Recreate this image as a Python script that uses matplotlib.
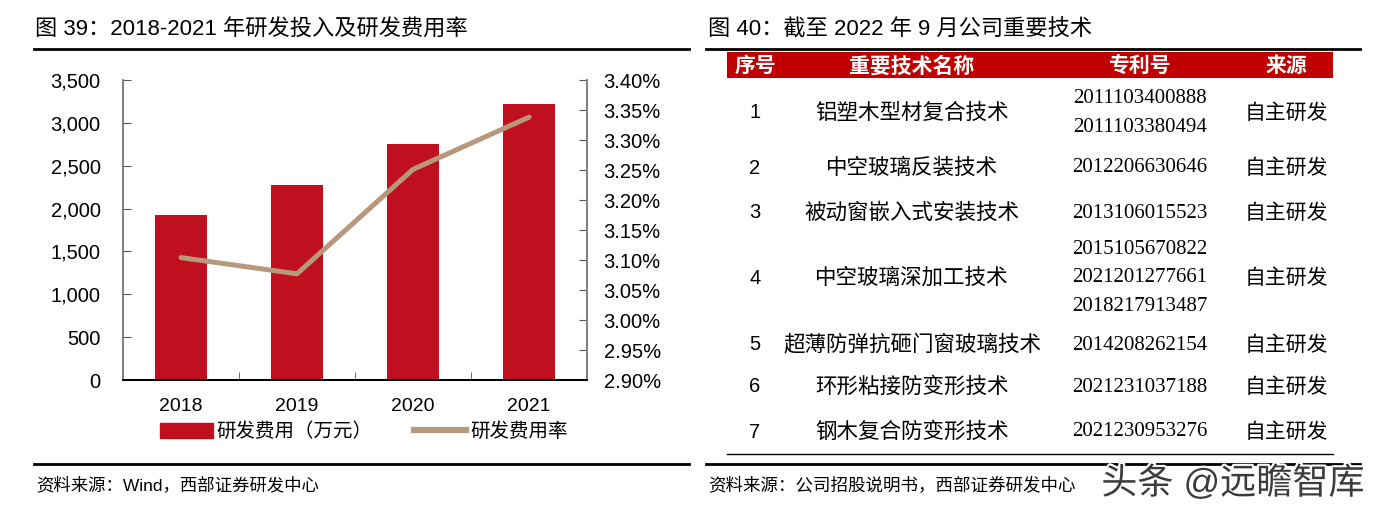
import matplotlib.pyplot as plt
import numpy as np
from matplotlib.lines import Line2D
from matplotlib.patches import Patch, Rectangle
from matplotlib.ticker import FuncFormatter
import matplotlib.patheffects as pe

CJK = ['Liberation Sans', 'Noto Sans CJK SC']
plt.rcParams['font.family'] = CJK

# data
years = ['2018', '2019', '2020', '2021']
rd_cost = [1925, 2270, 2751, 3224]          # 研发费用（万元）
rd_rate = [3.104, 3.077, 3.251, 3.338]      # 研发费用率 %

tbl_header = ['序号', '重要技术名称', '专利号', '来源']
tbl_no = ['1', '2', '3', '4', '5', '6', '7']
tbl_tech = ['铝塑木型材复合技术', '中空玻璃反装技术', '被动窗嵌入式安装技术',
            '中空玻璃深加工技术', '超薄防弹抗砸门窗玻璃技术', '环形粘接防变形技术',
            '钢木复合防变形技术']
tbl_patent = [['2011103400888', '2011103380494'],
              ['2012206630646'],
              ['2013106015523'],
              ['2015105670822', '2021201277661', '2018217913487'],
              ['2014208262154'],
              ['2021231037188'],
              ['2021230953276']]
tbl_src = ['自主研发'] * 7

W, H = 1380, 514
fig = plt.figure(figsize=(W / 100, H / 100), dpi=100)

bar_c = '#C00F1E'
line_c = '#B8987A'

# ---- left chart
ax = fig.add_axes([123 / W, (H - 380) / H, 464 / W, 300 / H])
x = np.arange(len(years))
ax.bar(x, rd_cost, width=0.44, color=bar_c, zorder=2)
ax.set_xlim(-0.5, 3.5)
ax.set_ylim(0, 3500)
ax.set_yticks(np.arange(0, 3501, 500))
ax.yaxis.set_major_formatter(FuncFormatter(lambda v, p: f'{int(v):,}'))
ax.set_xticks(x)
ax.set_xticklabels(years)
ax.set_xticks([0.5, 1.5, 2.5], minor=True)
ax.tick_params(axis='x', which='major', length=0, labelsize=14, pad=13)
ax.tick_params(axis='x', which='minor', direction='in', length=6, color='#555555')
ax.tick_params(axis='y', direction='in', length=6, color='#555555', labelsize=14.5, pad=16)

ax2 = ax.twinx()
ax2.plot(x, rd_rate, color=line_c, lw=3.6, solid_capstyle='round', zorder=3)
ax2.set_ylim(2.90, 3.40)
ax2.set_yticks(np.arange(2.90, 3.401, 0.05))
ax2.yaxis.set_major_formatter(FuncFormatter(lambda v, p: f'{v:.2f}%'))
ax2.tick_params(axis='y', direction='in', length=6, color='#555555', labelsize=14.5, pad=12)

for a in (ax, ax2):
    a.spines['top'].set_visible(False)
    a.spines['left'].set_color('#808080')
    a.spines['right'].set_color('#808080')
    a.spines['bottom'].set_color('black')
    for s in a.spines.values():
        s.set_linewidth(1.3)

handles = [Patch(color=bar_c), Line2D([0], [0], color=line_c, lw=4.5)]
fig.legend(handles, ['研发费用（万元）', '研发费用率'], loc='center',
           bbox_to_anchor=(364 / W, 1 - 432 / H), ncol=2, frameon=False,
           prop={'family': CJK, 'size': 14}, handlelength=2.7, handleheight=0.75,
           handletextpad=0.2, columnspacing=2.1)

# ---- overlay in pixel units for titles, rules and table
ov = fig.add_axes([0, 0, 1, 1], zorder=5)
ov.set_xlim(0, W)
ov.set_ylim(H, 0)
ov.axis('off')
ov.patch.set_visible(False)

ov.text(35, 30, '图 39：2018-2021 年研发投入及研发费用率', fontsize=16, va='center', ha='left')
ov.text(708, 30, '图 40：截至 2022 年 9 月公司重要技术', fontsize=16, va='center', ha='left')
for x0, x1 in [(34, 689), (706, 1360)]:
    ov.plot([x0, x1], [49, 49], color='black', lw=2)
    ov.plot([x0, x1], [464, 464], color='black', lw=2)

ov.text(36, 485, '资料来源：Wind，西部证券研发中心', fontsize=12.5, va='center', ha='left')
ov.text(708, 485, '资料来源：公司招股说明书，西部证券研发中心', fontsize=12.6, va='center', ha='left')

# table
col_x = [755, 912, 1140, 1286]
ov.add_patch(Rectangle((727, 52), 1333 - 727, 26, color='#C00000', lw=0))
for cx, h in zip(col_x, tbl_header):
    ov.text(cx, 66, h, color='white', fontsize=15, fontweight='bold', ha='center', va='center')

row_y = [113, 168, 213, 278, 345, 387, 432]
for y, no, tech, pats, src in zip(row_y, tbl_no, tbl_tech, tbl_patent, tbl_src):
    ov.text(col_x[0], y, no, fontsize=14.5, ha='center', va='center')
    ov.text(col_x[1], y, tech, fontsize=15.5, ha='center', va='center')
    ov.text(col_x[3], y, src, fontsize=15, ha='center', va='center')
    n = len(pats)
    for i, p in enumerate(pats):
        ov.text(col_x[2], y + (i - (n - 1) / 2) * 28.5, p, fontsize=15,
                family='Liberation Serif', ha='center', va='center')
ov.plot([727, 1333], [454, 454], color='black', lw=1)

ov.text(1233, 484, '头条 @远瞻智库', fontsize=26, color='#3c3c3c', ha='center', va='center',
        path_effects=[pe.withStroke(linewidth=3, foreground='white')])

fig.savefig('out.png', dpi=100)
